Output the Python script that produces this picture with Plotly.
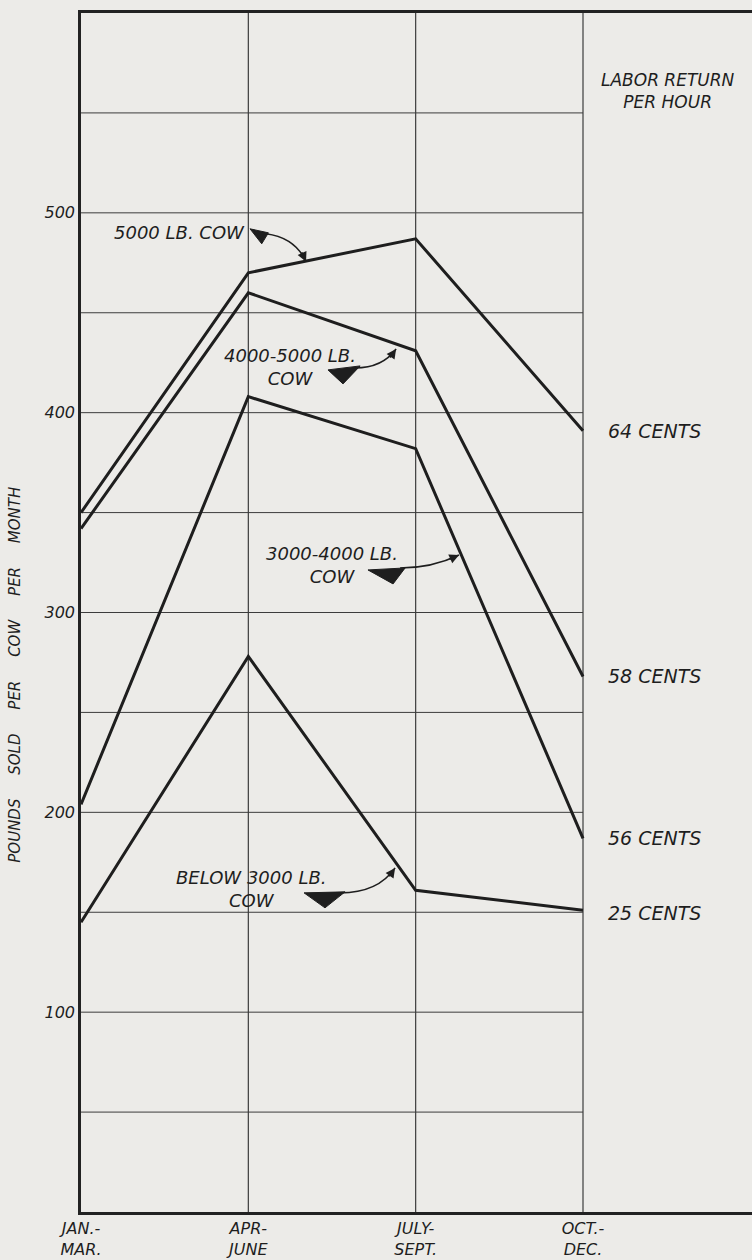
import plotly.graph_objects as go

# ---- data ----
period_ticks = ["JAN.-<br>MAR.", "APR-<br>JUNE", "JULY-<br>SEPT.", "OCT.-<br>DEC."]
period_pos = [0, 1, 2, 3]
cow_5000 = [350, 470, 487, 391]
cow_4000_5000 = [342, 460, 431, 268]
cow_3000_4000 = [204, 408, 382, 187]
cow_below_3000 = [145, 278, 161, 151]
labor_return = ["64 CENTS", "58 CENTS", "56 CENTS", "25 CENTS"]
y_ticks = [100, 200, 300, 400, 500]
grid_y = [50, 100, 150, 200, 250, 300, 350, 400, 450, 500, 550]

BG = "#ecebe8"
INK = "#1e1e1e"
FONT = "DejaVu Sans"

fig = go.Figure()

# horizontal grid (only across the quarterly area)
gx, gy = [], []
for v in grid_y:
    gx += [period_pos[0], period_pos[-1], None]
    gy += [v, v, None]
fig.add_trace(go.Scatter(x=gx, y=gy, mode="lines", line=dict(color="#3c3c3c", width=1),
                         hoverinfo="skip", showlegend=False))
# vertical grid
vx, vy = [], []
for p in period_pos[1:]:
    vx += [p, p, None]
    vy += [0, 600, None]
fig.add_trace(go.Scatter(x=vx, y=vy, mode="lines", line=dict(color="#3c3c3c", width=1.2),
                         hoverinfo="skip", showlegend=False))

series = [
    ("5000 LB. COW", cow_5000),
    ("4000-5000 LB. COW", cow_4000_5000),
    ("3000-4000 LB. COW", cow_3000_4000),
    ("BELOW 3000 LB. COW", cow_below_3000),
]
for name, vals in series:
    fig.add_trace(go.Scatter(x=period_pos, y=vals, mode="lines", name=name,
                             line=dict(color=INK, width=3), showlegend=False))

tfont = dict(family=FONT, size=18, color=INK, style="italic")

# right-hand labels
for lab, (_, vals) in zip(labor_return, series):
    fig.add_annotation(x=3.14, y=vals[-1], xref="x", yref="y", text=lab, showarrow=False,
                       xanchor="left", yanchor="middle",
                       font=dict(family=FONT, size=19, color=INK, style="italic"),
                       yshift=-3 if lab.startswith("25") else 0)
fig.add_annotation(x=3.51, y=561, xref="x", yref="y", text="LABOR RETURN<br>PER HOUR",
                   showarrow=False, xanchor="center", yanchor="middle", align="center",
                   font=dict(family=FONT, size=17, color=INK, style="italic"))

# y-axis title
sp = "\u00a0" * 5
fig.add_annotation(x=-0.098, y=269, xref="paper", yref="y",
                   text=sp.join(["POUNDS", "SOLD", "PER", "COW", "PER", "MONTH"]),
                   textangle=-90, showarrow=False, xanchor="center", yanchor="middle",
                   font=dict(family=FONT, size=15, color=INK, style="italic"))

# series callouts: text, wedge, curved arrow
callouts = [
    dict(text="5000 LB. COW", tx=0.99, ty=490, xanchor="right",
         wedge=[(1.01, 492.0), (1.12, 490.0), (1.08, 484.5)],
         curve=[(1.106, 489.5), (1.28, 487.5), (1.345, 475.5)], tail=(-5, -11)),
    dict(text="4000-5000 LB.<br>COW", tx=1.25, ty=422.7, xanchor="center",
         wedge=[(1.476, 421.4), (1.668, 423.4), (1.566, 414.4)],
         curve=[(1.638, 422.4), (1.80, 422.4), (1.883, 431.9)], tail=(-7, 10)),
    dict(text="3000-4000 LB.<br>COW", tx=1.50, ty=323.8, xanchor="center",
         wedge=[(1.715, 321.3), (1.937, 322.3), (1.865, 314.3)],
         curve=[(1.907, 322.3), (2.098, 322.3), (2.259, 328.8)], tail=(-11, 5)),
    dict(text="BELOW 3000 LB.<br>COW", tx=1.02, ty=161.7, xanchor="center",
         wedge=[(1.333, 159.7), (1.578, 160.2), (1.458, 152.2)],
         curve=[(1.548, 159.7), (1.775, 159.7), (1.877, 172.2)], tail=(-7, 10)),
]
for c in callouts:
    fig.add_annotation(x=c["tx"], y=c["ty"], xref="x", yref="y", text=c["text"], showarrow=False,
                       xanchor=c["xanchor"], yanchor="middle", align="center", font=tfont)
    w = c["wedge"]
    fig.add_shape(type="path", xref="x", yref="y",
                  path=f"M {w[0][0]},{w[0][1]} L {w[1][0]},{w[1][1]} L {w[2][0]},{w[2][1]} Z",
                  fillcolor=INK, line=dict(color=INK, width=1))
    (x0, y0), (cx, cy), (x1, y1) = c["curve"]
    fig.add_shape(type="path", xref="x", yref="y",
                  path=f"M {x0},{y0} Q {cx},{cy} {x1},{y1}",
                  line=dict(color=INK, width=1.6))
    fig.add_annotation(x=x1, y=y1, xref="x", yref="y", text="", showarrow=True,
                       ax=c["tail"][0], ay=c["tail"][1], arrowhead=2, arrowsize=1.2,
                       arrowwidth=1.6, arrowcolor=INK)

fig.update_layout(
    width=752, height=1260,
    margin=dict(l=81, r=0, t=13, b=48),
    paper_bgcolor=BG, plot_bgcolor=BG,
    showlegend=False,
    font=dict(family=FONT, color=INK, style="italic"),
)
fig.update_xaxes(range=[0, 4.01], tickvals=period_pos, ticktext=period_ticks,
                 showgrid=False, zeroline=False, showline=True, mirror=True,
                 linecolor="#222", linewidth=2.5, ticks="",
                 tickfont=dict(family=FONT, size=16, color=INK, style="italic"))
fig.update_yaxes(range=[0, 600], tickvals=y_ticks, ticktext=[str(v) for v in y_ticks],
                 showgrid=False, zeroline=False, showline=True, mirror=False,
                 linecolor="#222", linewidth=2.5, ticks="",
                 tickfont=dict(family=FONT, size=16, color=INK, style="italic"))

fig.write_html(
    "out.html",
    config={"displayModeBar": False},
    post_script="document.body.style.margin='0';document.body.style.background='%s';" % BG,
)
